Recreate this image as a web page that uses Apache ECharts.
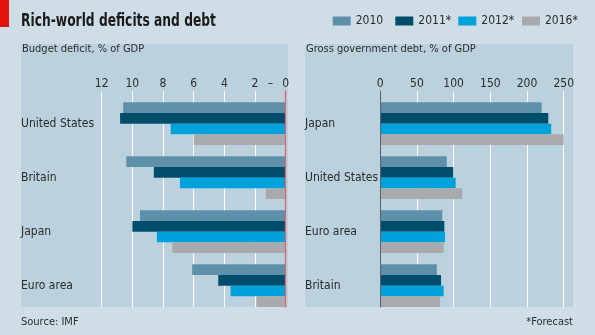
<!DOCTYPE html>
<html><head><meta charset="utf-8">
<script src="https://cdn.jsdelivr.net/npm/echarts@6/dist/echarts.min.js"></script>
<style>html,body{margin:0;padding:0;background:#cfdee6;}#c{width:595px;height:335px;}</style>
</head><body><div id="c"></div>
<script>
// ---- data ----
const years = ['2010', '2011*', '2012*', '2016*'];
const deficitCategories = ['United States', 'Britain', 'Japan', 'Euro area'];
const deficit2010 = [10.6, 10.4, 9.5, 6.1];
const deficit2011 = [10.8, 8.6, 10.0, 4.4];
const deficit2012 = [7.5, 6.9, 8.4, 3.6];
const deficit2016 = [6.0, 1.3, 7.4, 1.9];
const debtCategories = ['Japan', 'United States', 'Euro area', 'Britain'];
const debt2010 = [220, 90.5, 84.5, 77];
const debt2011 = [229, 99.5, 87.3, 82.8];
const debt2012 = [233, 102.7, 88.2, 86.4];
const debt2016 = [250, 111.8, 86.4, 81.4];
const deficitTicks = { min: 0, max: 12, interval: 2 };
const debtTicks = { min: 0, max: 250, interval: 50 };
const deficitSignLabel = { value: 1, text: '–' };
const titleText = 'Rich-world deficits and debt';
const leftSubtitle = 'Budget deficit, % of GDP';
const rightSubtitle = 'Gross government debt, % of GDP';
const sourceText = 'Source: IMF';
const noteText = '*Forecast';

// ---- styles ----
const FONT = "'DejaVu Sans Condensed','Liberation Sans Narrow','Noto Sans',sans-serif";
const colors = ['#5f90a9', '#004e6c', '#00a2dc', '#a9aaad'];
const BG = '#cfdee6', PANEL = '#bbd2de', TEXT = '#2b2b2b';
const deficitData = [deficit2010, deficit2011, deficit2012, deficit2016];
const debtData = [debt2010, debt2011, debt2012, debt2016];

const L = { left: 101.7, width: 184 };
const R = { left: 380.3, width: 183.4 };
const FRAME_TOP = 91, H = 216, BAR_TOP = 96.65;
const legendLefts = [332.7, 395.3, 458.3, 522];

const chart = echarts.init(document.getElementById('c'), null, { renderer: 'canvas' });

function frameX(t) {
  return {
    type: 'value', position: 'top', min: t.min, max: t.max, interval: t.interval,
    axisLine: { show: false }, axisTick: { show: false },
    axisLabel: { color: TEXT, fontSize: 12, fontFamily: FONT, margin: 1 },
    splitLine: { show: true, lineStyle: { color: '#ffffff', width: 1 } }
  };
}
function hiddenX(t) {
  return { type: 'value', min: t.min, max: t.max, show: false };
}
function catY(cats, margin) {
  return {
    type: 'category', data: cats, inverse: true, position: 'left',
    axisLine: { show: false, onZero: false }, axisTick: { show: false },
    axisLabel: { align: 'left', margin: margin, color: TEXT, fontSize: 12, fontFamily: FONT },
    splitLine: { show: false }
  };
}

const series = [];
years.forEach((y, i) => {
  series.push({ name: y, type: 'bar', xAxisIndex: 1, yAxisIndex: 1, data: deficitData[i],
    barWidth: 10.67, barGap: '0%', itemStyle: { color: colors[i] }, silent: true });
});
years.forEach((y, i) => {
  series.push({ name: y, type: 'bar', xAxisIndex: 3, yAxisIndex: 3, data: debtData[i],
    barWidth: 10.67, barGap: '0%', itemStyle: { color: colors[i] }, silent: true });
});

const option = {
  animation: false,
  backgroundColor: BG,
  color: colors,
  textStyle: { fontFamily: FONT },
  legend: years.map((y, i) => ({
    data: [y], left: legendLefts[i], top: 15, padding: 0, itemGap: 0,
    itemWidth: 18, itemHeight: 9, icon: 'rect', selectedMode: false,
    textStyle: { fontSize: 12, color: TEXT, fontFamily: FONT }
  })),
  grid: [
    { left: L.left, width: L.width, top: FRAME_TOP, height: H, containLabel: false },
    { left: L.left, width: L.width, top: BAR_TOP, height: H, containLabel: false },
    { left: R.left, width: R.width, top: FRAME_TOP, height: H, containLabel: false },
    { left: R.left, width: R.width, top: BAR_TOP, height: H, containLabel: false }
  ],
  xAxis: [
    Object.assign(frameX(deficitTicks), { gridIndex: 0, inverse: true }),
    Object.assign(hiddenX(deficitTicks), { gridIndex: 1, inverse: true }),
    Object.assign(frameX(debtTicks), { gridIndex: 2 }),
    Object.assign(hiddenX(debtTicks), { gridIndex: 3 })
  ],
  yAxis: [
    { gridIndex: 0, type: 'value', min: 0, max: 1, position: 'right',
      axisLine: { show: true, onZero: false, lineStyle: { color: '#e0636e', width: 1.3 } },
      axisTick: { show: false }, axisLabel: { show: false }, splitLine: { show: false }, z: 5 },
    Object.assign(catY(deficitCategories, L.left - 21), { gridIndex: 1 }),
    { gridIndex: 2, type: 'value', min: 0, max: 1, position: 'left',
      axisLine: { show: true, onZero: false, lineStyle: { color: '#5b6268', width: 1 } },
      axisTick: { show: false }, axisLabel: { show: false }, splitLine: { show: false }, z: 5 },
    Object.assign(catY(debtCategories, R.left - 305), { gridIndex: 3 })
  ],
  series: series,
  graphic: [
    { type: 'rect', z: -10, shape: { x: 21, y: 44, width: 267, height: 263 }, style: { fill: PANEL }, silent: true },
    { type: 'rect', z: -10, shape: { x: 305, y: 44, width: 268, height: 263 }, style: { fill: PANEL }, silent: true },
    { type: 'rect', shape: { x: 0, y: 0, width: 9, height: 27 }, style: { fill: '#e3120b' }, silent: true },
    { type: 'text', x: 21, y: 21.5, scaleX: 0.78, originX: 0, originY: 0,
      style: { text: titleText, x: 0, y: 0, verticalAlign: 'middle', fill: '#1a1a1a',
        font: "bold 17.5px " + FONT } },
    { type: 'text', style: { text: leftSubtitle, x: 22, y: 49.5, verticalAlign: 'middle', fill: TEXT,
        font: "11px " + FONT } },
    { type: 'text', style: { text: rightSubtitle, x: 306, y: 49.5, verticalAlign: 'middle', fill: TEXT,
        font: "11px " + FONT } },
    { type: 'text', style: { text: sourceText, x: 21, y: 322.5, verticalAlign: 'middle', fill: TEXT,
        font: "11px " + FONT } },
    { type: 'text', style: { text: noteText, x: 573, y: 322.5, align: 'right', verticalAlign: 'middle', fill: TEXT,
        font: "11px " + FONT } }
  ]
};
chart.setOption(option);

// minus-sign marker on the deficit scale, positioned by the axis itself
const signX = chart.convertToPixel({ xAxisIndex: 0 }, deficitSignLabel.value);
const g = option.graphic.slice();
g.push({ type: 'text', style: { text: deficitSignLabel.text, x: signX, y: 83.5, align: 'center',
  verticalAlign: 'middle', fill: TEXT, font: "12px " + FONT } });
chart.setOption({ graphic: g });
</script>
</body></html>
